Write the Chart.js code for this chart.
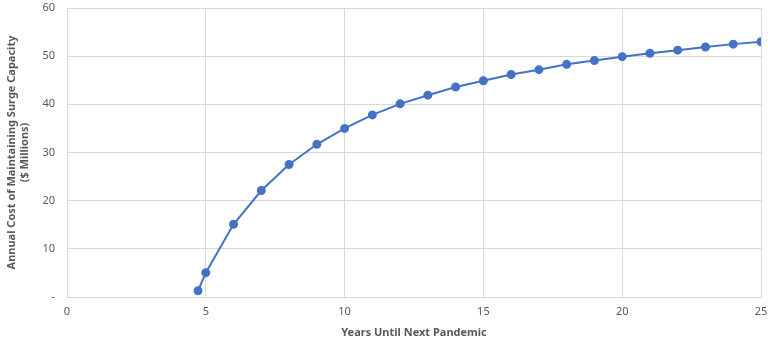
<!DOCTYPE html>
<html>
<head>
<meta charset="utf-8">
<script src="https://cdn.jsdelivr.net/npm/chart.js@4"></script>
<style>
  html, body { margin: 0; padding: 0; background: #fff; }
  #wrap { width: 768px; height: 343px; }
</style>
</head>
<body>
<div id="wrap"><canvas id="chart"></canvas></div>
<script>
// Years until next pandemic vs annual cost ($ millions)
const years = [4.72, 5, 6, 7, 8, 9, 10, 11, 12, 13, 14, 15, 16, 17, 18, 19, 20, 21, 22, 23, 24, 25]
const costs = [1.3, 5.05, 15.1, 22.1, 27.5, 31.7, 35.0, 37.8, 40.1, 41.9, 43.6, 44.9, 46.2, 47.2, 48.3, 49.1, 49.9, 50.6, 51.25, 51.9, 52.5, 53.0]
const xTicks = [0, 5, 10, 15, 20, 25]
const yTicks = [0, 10, 20, 30, 40, 50, 60]

const grey = '#595959'
const gridColour = '#d9d9d9'

/**
 * Builds the {x, y} points for the line from the two arrays.
 */
function points () {
    return years.map((x, i) => ({ x: x, y: costs[i] }))
}

new Chart(document.getElementById('chart').getContext('2d'), {
    type: 'line',
    data: {
        datasets: [{
            data: points(),
            borderColor: '#4472C4',
            backgroundColor: '#4472C4',
            borderWidth: 2,
            pointRadius: 3.5,
            pointHoverRadius: 3.5,
            tension: 0
        }]
    },
    options: {
        responsive: true,
        maintainAspectRatio: false,
        animation: false,
        layout: { autoPadding: false, padding: { top: 8, right: 7, left: 0, bottom: 0 } },
        plugins: {
            legend: { display: false },
            tooltip: { enabled: false }
        },
        scales: {
            x: {
                type: 'linear',
                min: 0,
                max: 25,
                afterBuildTicks: (scale) => { scale.ticks = xTicks.map(v => ({ value: v })) },
                afterFit: (scale) => {
                    scale.height = 46
                    scale.paddingLeft = 0
                    scale.paddingRight = 0
                },
                grid: { color: gridColour, drawTicks: false, lineWidth: 1 },
                border: { color: gridColour },
                ticks: { color: grey, font: { family: 'Noto Sans', size: 11 }, padding: 8 },
                title: {
                    display: true,
                    text: 'Years Until Next Pandemic',
                    color: grey,
                    font: { family: 'Noto Sans', size: 11, weight: 'bold' },
                    padding: { top: 2 }
                }
            },
            y: {
                min: 0,
                max: 60,
                afterBuildTicks: (scale) => { scale.ticks = yTicks.map(v => ({ value: v })) },
                afterFit: (scale) => {
                    scale.width = 67
                    scale.paddingTop = 0
                    scale.paddingBottom = 0
                },
                grid: { color: gridColour, drawTicks: false, lineWidth: 1 },
                border: { color: gridColour },
                ticks: {
                    color: grey,
                    font: { family: 'Noto Sans', size: 11 },
                    padding: 12,
                    callback: (v) => v === 0 ? '-' : v
                },
                title: {
                    display: true,
                    text: ['Annual Cost of Maintaining Surge Capacity', '($ Millions)'],
                    color: grey,
                    font: { family: 'Noto Sans', size: 11, weight: 'bold' },
                    padding: { top: 5, bottom: 0 }
                }
            }
        }
    }
})
</script>
</body>
</html>
